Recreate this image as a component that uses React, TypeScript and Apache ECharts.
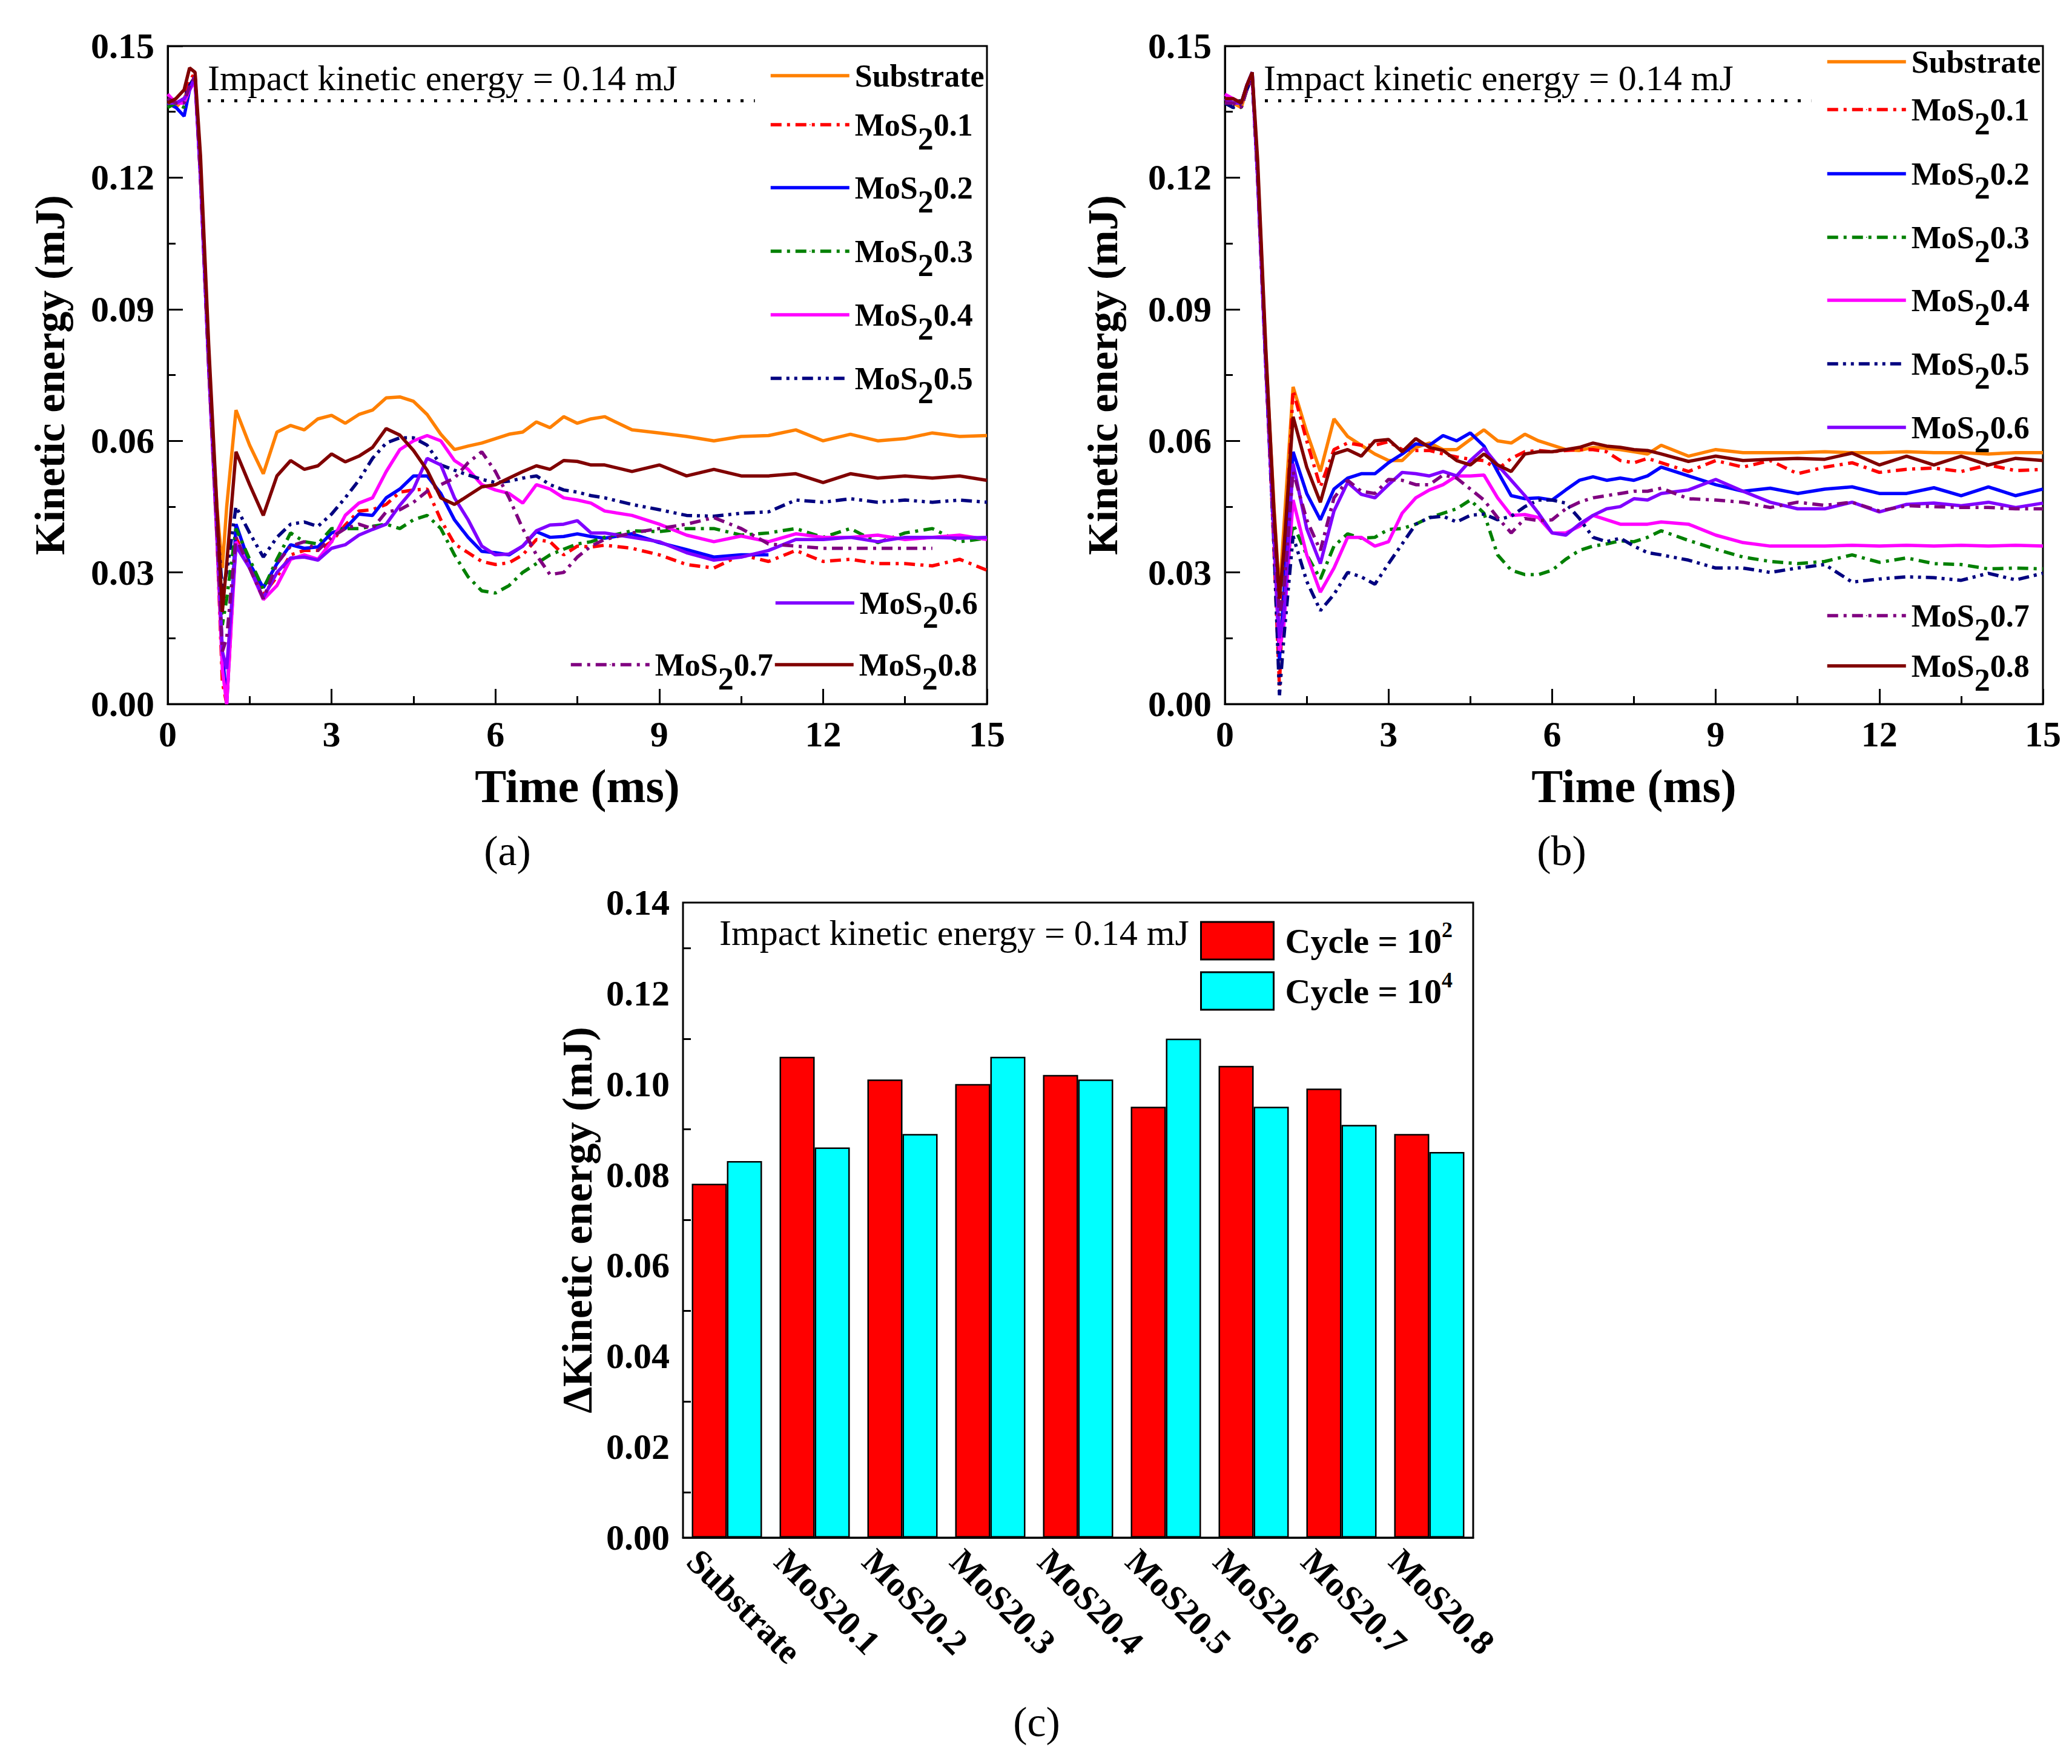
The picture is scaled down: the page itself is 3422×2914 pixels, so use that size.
import { useEffect, useRef } from "react";
import * as echarts from "echarts";

const FONT = "'Liberation Serif', 'Times New Roman', serif";

// shared time base (ms) for panels (a) and (b)
const TIME = [
  0, 0.15, 0.3, 0.4, 0.5, 0.6, 0.75, 0.9, 1.0, 1.08,
  1.25, 1.5, 1.75, 2.0, 2.25, 2.5, 2.75, 3.0, 3.25, 3.5, 3.75, 4.0, 4.25, 4.5,
  4.75, 5.0, 5.25, 5.5, 5.75, 6.0, 6.25, 6.5, 6.75, 7.0, 7.25, 7.5, 7.75, 8.0,
  8.5, 9.0, 9.5, 10.0, 10.5, 11.0, 11.5, 12.0, 12.5, 13.0, 13.5, 14.0, 14.5, 15.0,
];

// panel (a)
const A_SUBSTRATE = [
  0.137, 0.136, 0.138, 0.141, 0.143, 0.122, 0.078, 0.045, 0.031, 0.045,
  0.067, 0.059, 0.0525, 0.062, 0.0635, 0.0625, 0.065, 0.0658, 0.064, 0.066, 0.067, 0.0698, 0.070, 0.069,
  0.066, 0.0615, 0.058, 0.0588, 0.0595, 0.0605, 0.0615, 0.062, 0.0643, 0.063, 0.0655, 0.064, 0.065, 0.0655,
  0.0625, 0.0618, 0.061, 0.060, 0.061, 0.0612, 0.0625, 0.060, 0.0615, 0.060, 0.0605, 0.0618, 0.061, 0.0612,
];
const A_MOS2_01 = [
  0.138, 0.137, 0.138, 0.142, 0.144, 0.12, 0.077, 0.038, 0.005, 0.0,
  0.038, 0.031, 0.025, 0.029, 0.034, 0.035, 0.035, 0.037, 0.0408, 0.044, 0.0443, 0.0455, 0.0483, 0.0488,
  0.049, 0.042, 0.0365, 0.0345, 0.0325, 0.0318, 0.0322, 0.034, 0.0375, 0.037, 0.034, 0.036, 0.0358, 0.0362,
  0.0355, 0.034, 0.0318, 0.031, 0.034, 0.0325, 0.035, 0.0325, 0.033, 0.032, 0.032, 0.0315, 0.033, 0.0305,
];
const A_MOS2_02 = [
  0.137, 0.136, 0.134, 0.140, 0.143, 0.121, 0.078, 0.040, 0.012, 0.0,
  0.041, 0.032, 0.0265, 0.032, 0.0363, 0.0355, 0.0358, 0.039, 0.040, 0.0433, 0.043, 0.047, 0.049, 0.052,
  0.052, 0.048, 0.042, 0.038, 0.0348, 0.0345, 0.034, 0.036, 0.0393, 0.038, 0.0382, 0.0388, 0.0382, 0.0378,
  0.0388, 0.0368, 0.0352, 0.0335, 0.034, 0.034,
];
const A_MOS2_03 = [
  0.136, 0.137, 0.136, 0.141, 0.143, 0.121, 0.077, 0.040, 0.018, 0.024,
  0.040, 0.033, 0.0262, 0.033, 0.039, 0.037, 0.0365, 0.040, 0.040, 0.040, 0.0405, 0.041, 0.040, 0.042,
  0.043, 0.040, 0.034, 0.029, 0.0258, 0.0253, 0.027, 0.030, 0.032, 0.034, 0.0353, 0.0365, 0.037, 0.038,
  0.0395, 0.0393, 0.040, 0.040, 0.0385, 0.039, 0.040, 0.038, 0.040, 0.0368, 0.039, 0.040, 0.037, 0.0378,
];
const A_MOS2_04 = [
  0.139, 0.137, 0.137, 0.140, 0.142, 0.120, 0.077, 0.038, 0.008, 0.0,
  0.037, 0.031, 0.0238, 0.027, 0.033, 0.034, 0.033, 0.037, 0.043, 0.0458, 0.047, 0.053, 0.058, 0.060,
  0.0612, 0.060, 0.0555, 0.0535, 0.050, 0.0488, 0.048, 0.0458, 0.050, 0.049, 0.047, 0.0465, 0.0458, 0.044,
  0.043, 0.041, 0.0385, 0.037, 0.0383, 0.037, 0.0388, 0.038, 0.038, 0.0385, 0.0375, 0.038, 0.0385, 0.0375,
];
const A_MOS2_05 = [
  0.138, 0.137, 0.138, 0.141, 0.143, 0.121, 0.078, 0.042, 0.026, 0.030,
  0.045, 0.039, 0.0335, 0.038, 0.041, 0.0415, 0.0405, 0.0433, 0.047, 0.051, 0.056, 0.0595, 0.0607, 0.0607,
  0.059, 0.0545, 0.0533, 0.0522, 0.0512, 0.0505, 0.0508, 0.0515, 0.052, 0.050, 0.0488, 0.0483, 0.0475, 0.047,
  0.0455, 0.0443, 0.043, 0.0428, 0.0435, 0.0438, 0.0465, 0.046, 0.0468, 0.046, 0.0465, 0.046, 0.0465, 0.046,
];
const A_MOS2_06 = [
  0.137, 0.137, 0.138, 0.140, 0.143, 0.120, 0.077, 0.040, 0.012, 0.008,
  0.036, 0.031, 0.0242, 0.030, 0.0333, 0.0335, 0.0328, 0.0355, 0.0363, 0.0385, 0.0398, 0.041, 0.0453, 0.049,
  0.056, 0.0545, 0.047, 0.042, 0.036, 0.034, 0.0342, 0.036, 0.0395, 0.0408, 0.041, 0.0418, 0.039, 0.039,
  0.038, 0.037, 0.0345, 0.0328, 0.0335, 0.035, 0.0375, 0.0375, 0.038, 0.037, 0.038, 0.038, 0.0378, 0.038,
];
const A_MOS2_07 = [
  0.138, 0.137, 0.137, 0.141, 0.143, 0.120, 0.077, 0.039, 0.012, 0.015,
  0.038, 0.031, 0.024, 0.032, 0.036, 0.037, 0.035, 0.038, 0.040, 0.041, 0.040, 0.0438, 0.0443, 0.046,
  0.0485, 0.050, 0.0515, 0.055, 0.0575, 0.053, 0.047, 0.040, 0.034, 0.0295, 0.030, 0.0335, 0.036, 0.0375,
  0.039, 0.040, 0.041, 0.0425, 0.040, 0.0365, 0.036, 0.0355, 0.0355, 0.0355, 0.0355, 0.0355,
];
const A_MOS2_08 = [
  0.137, 0.138, 0.140, 0.145, 0.144, 0.125, 0.082, 0.045, 0.021, 0.032,
  0.0575, 0.050, 0.043, 0.052, 0.0555, 0.0535, 0.0543, 0.057, 0.0552, 0.0565, 0.0585, 0.0628, 0.0613, 0.0578,
  0.0533, 0.047, 0.0455, 0.0475, 0.0495, 0.050, 0.0515, 0.053, 0.0543, 0.0535, 0.0555, 0.0553, 0.0545, 0.0545,
  0.053, 0.0545, 0.052, 0.0535, 0.052, 0.052, 0.0525, 0.0505, 0.0525, 0.0515, 0.052, 0.0515, 0.052, 0.051,
];

// panel (b)
const B_SUBSTRATE = [
  0.138, 0.137, 0.136, 0.140, 0.143, 0.122, 0.080, 0.045, 0.025, 0.040,
  0.0723, 0.062, 0.053, 0.065, 0.061, 0.059, 0.057, 0.0555, 0.0555, 0.0585, 0.0595, 0.058, 0.058, 0.0603,
  0.0625, 0.060, 0.0595, 0.0615, 0.060, 0.059, 0.058, 0.0578, 0.0585, 0.0583, 0.058, 0.0575, 0.057, 0.059,
  0.0565, 0.058, 0.0573, 0.0573, 0.0573, 0.0575, 0.0573, 0.0573, 0.0575, 0.0573, 0.0573, 0.057, 0.0573, 0.0573,
];
const B_MOS2_01 = [
  0.137, 0.137, 0.136, 0.141, 0.143, 0.121, 0.078, 0.035, 0.004, 0.030,
  0.0715, 0.060, 0.0495, 0.058, 0.0595, 0.059, 0.059, 0.0598, 0.058, 0.0578, 0.0578, 0.057, 0.0563, 0.0558,
  0.0555, 0.0535, 0.056, 0.0575, 0.0578, 0.0575, 0.0578, 0.058, 0.058, 0.0575, 0.0555, 0.055, 0.056, 0.055,
  0.053, 0.0555, 0.054, 0.0555, 0.0525, 0.054, 0.055, 0.0528, 0.0535, 0.0538, 0.053, 0.0545, 0.0532, 0.0535,
];
const B_MOS2_02 = [
  0.138, 0.137, 0.137, 0.141, 0.144, 0.121, 0.078, 0.038, 0.010, 0.025,
  0.0575, 0.048, 0.042, 0.049, 0.0515, 0.0525, 0.0525, 0.055, 0.057, 0.0593, 0.059, 0.0612, 0.060, 0.0618,
  0.0588, 0.053, 0.0475, 0.0468, 0.047, 0.0465, 0.0488, 0.051, 0.0518, 0.051, 0.0515, 0.051, 0.052, 0.054,
  0.052, 0.050, 0.0485, 0.0492, 0.048, 0.049, 0.0495, 0.048, 0.048, 0.0493, 0.0475, 0.0495, 0.0475, 0.049,
];
const B_MOS2_03 = [
  0.137, 0.136, 0.136, 0.140, 0.143, 0.120, 0.077, 0.040, 0.020, 0.028,
  0.041, 0.034, 0.0285, 0.036, 0.0388, 0.0378, 0.038, 0.0398, 0.040, 0.041, 0.0425, 0.0435, 0.0445, 0.0465,
  0.0435, 0.034, 0.0305, 0.0295, 0.0295, 0.0305, 0.033, 0.035, 0.036, 0.0365, 0.0372, 0.037, 0.038, 0.0395,
  0.0373, 0.0353, 0.0335, 0.0325, 0.032, 0.0325, 0.034, 0.0323, 0.0333, 0.032, 0.0318, 0.0308, 0.031, 0.0308,
];
const B_MOS2_04 = [
  0.139, 0.138, 0.137, 0.140, 0.143, 0.120, 0.077, 0.038, 0.012, 0.018,
  0.0465, 0.034, 0.0255, 0.031, 0.038, 0.038, 0.036, 0.037, 0.0435, 0.047, 0.0488, 0.050, 0.052, 0.052,
  0.0522, 0.047, 0.043, 0.0432, 0.0425, 0.039, 0.039, 0.0405, 0.043, 0.042, 0.041, 0.041, 0.041, 0.0415,
  0.041, 0.0385, 0.0368, 0.036, 0.036, 0.036, 0.0362, 0.036, 0.0362, 0.036, 0.0362, 0.036, 0.0362, 0.036,
];
const B_MOS2_05 = [
  0.137, 0.136, 0.137, 0.140, 0.143, 0.120, 0.077, 0.036, 0.002, 0.015,
  0.0383, 0.028, 0.0213, 0.025, 0.030, 0.029, 0.0273, 0.032, 0.0365, 0.041, 0.0425, 0.0428, 0.0415, 0.043,
  0.0433, 0.042, 0.0428, 0.045, 0.0465, 0.0465, 0.0458, 0.0423, 0.038, 0.037, 0.0378, 0.036, 0.0345, 0.034,
  0.0328, 0.031, 0.031, 0.030, 0.031, 0.0318, 0.0278, 0.0285, 0.029, 0.0288, 0.0282, 0.0298, 0.0283, 0.0298,
];
const B_MOS2_06 = [
  0.138, 0.137, 0.137, 0.141, 0.144, 0.120, 0.077, 0.038, 0.015, 0.020,
  0.0548, 0.040, 0.032, 0.044, 0.0505, 0.0478, 0.047, 0.050, 0.0528, 0.0525, 0.052, 0.053, 0.052, 0.0555,
  0.0583, 0.0545, 0.051, 0.0475, 0.0435, 0.039, 0.0385, 0.041, 0.043, 0.0445, 0.045, 0.0468, 0.0465, 0.048,
  0.0488, 0.0512, 0.0485, 0.046, 0.0445, 0.0445, 0.046, 0.0438, 0.0455, 0.0458, 0.0452, 0.046, 0.0448, 0.0458,
];
const B_MOS2_07 = [
  0.137, 0.137, 0.136, 0.140, 0.143, 0.120, 0.077, 0.040, 0.020, 0.026,
  0.053, 0.042, 0.035, 0.047, 0.051, 0.0485, 0.048, 0.0512, 0.051, 0.050, 0.050, 0.0522, 0.0515, 0.049,
  0.0465, 0.0425, 0.039, 0.0423, 0.0418, 0.042, 0.0445, 0.046, 0.047, 0.0475, 0.048, 0.0485, 0.0485, 0.0492,
  0.0468, 0.0465, 0.046, 0.0448, 0.046, 0.0453, 0.046, 0.044, 0.0452, 0.045, 0.0448, 0.0448, 0.0445, 0.0445,
];
const B_MOS2_08 = [
  0.138, 0.138, 0.137, 0.141, 0.144, 0.124, 0.081, 0.044, 0.024, 0.035,
  0.0655, 0.054, 0.046, 0.057, 0.058, 0.0565, 0.060, 0.0603, 0.0575, 0.0605, 0.0585, 0.0578, 0.0555, 0.0545,
  0.057, 0.0545, 0.053, 0.057, 0.0575, 0.0575, 0.058, 0.0585, 0.0595, 0.0588, 0.0585, 0.058, 0.0578, 0.057,
  0.0553, 0.0565, 0.0555, 0.0558, 0.056, 0.0558, 0.0572, 0.0545, 0.0565, 0.0545, 0.0565, 0.0545, 0.056, 0.0555,
];

// panel (c)
const CATEGORIES = ["Substrate", "MoS20.1", "MoS20.2", "MoS20.3", "MoS20.4", "MoS20.5", "MoS20.6", "MoS20.7", "MoS20.8"];
const CYCLE_1E2 = [0.078, 0.106, 0.101, 0.100, 0.102, 0.095, 0.104, 0.099, 0.089];
const CYCLE_1E4 = [0.083, 0.086, 0.089, 0.106, 0.101, 0.110, 0.095, 0.091, 0.085];

const IMPACT_LEVEL = 0.1375;
const IMPACT_LINE_END = 10.75;
const IMPACT_TEXT = "Impact kinetic energy = 0.14 mJ";

const DASH_DOT = [18, 9, 5, 9];
const DASH_DOT_DOT = [18, 8, 5, 8, 5, 8];

const SERIES_STYLE = [
  { name: "Substrate", color: "#FF8000", dash: "solid" as any },
  { name: "MoS2 0.1", color: "#FF0000", dash: DASH_DOT },
  { name: "MoS2 0.2", color: "#0000FF", dash: "solid" },
  { name: "MoS2 0.3", color: "#008000", dash: DASH_DOT },
  { name: "MoS2 0.4", color: "#FF00FF", dash: "solid" },
  { name: "MoS2 0.5", color: "#000080", dash: DASH_DOT_DOT },
  { name: "MoS2 0.6", color: "#8000FF", dash: "solid" },
  { name: "MoS2 0.7", color: "#800080", dash: DASH_DOT },
  { name: "MoS2 0.8", color: "#800000", dash: "solid" },
];

const PANEL_A = [A_SUBSTRATE, A_MOS2_01, A_MOS2_02, A_MOS2_03, A_MOS2_04, A_MOS2_05, A_MOS2_06, A_MOS2_07, A_MOS2_08];
const PANEL_B = [B_SUBSTRATE, B_MOS2_01, B_MOS2_02, B_MOS2_03, B_MOS2_04, B_MOS2_05, B_MOS2_06, B_MOS2_07, B_MOS2_08];

const TEXT = { fontFamily: FONT, color: "#000" };

const LEGEND_RICH = {
  n: { ...TEXT, fontSize: 52, fontWeight: "bold", lineHeight: 60 },
  s: { ...TEXT, fontSize: 52, fontWeight: "bold", lineHeight: 60, padding: [46, 0, 0, 0] },
};

function legendLabel(name: string) {
  if (name === "Substrate") return "{n|Substrate}";
  return `{n|MoS}{s|2}{n|${name.split(" ")[1]}}`;
}

// one legend per entry so each can sit where the original puts it
function lineLegend(name: string, left: number, cy: number) {
  const half = name === "Substrate" ? 30 : 53;
  return {
    data: [name],
    left,
    top: cy - half,
    padding: 0,
    itemWidth: 130,
    itemHeight: 2,
    selectedMode: false,
    lineStyle: { width: 5.5 },
    formatter: legendLabel,
    textStyle: { ...TEXT, fontSize: 52, fontWeight: "bold", padding: [0, 0, 0, 4], rich: LEGEND_RICH },
  };
}

function barLegend(name: string, cy: number) {
  return {
    data: [name],
    left: 1982,
    top: cy - 38,
    padding: 0,
    icon: "rect",
    itemWidth: 120,
    itemHeight: 62,
    selectedMode: false,
    itemStyle: { borderColor: "#000", borderWidth: 3 },
    formatter: (n: string) => `{n|Cycle = 10}{p|${n.slice(-1)}}`,
    textStyle: {
      ...TEXT,
      fontSize: 58,
      fontWeight: "bold",
      rich: {
        n: { ...TEXT, fontSize: 58, fontWeight: "bold", lineHeight: 62, padding: [0, 0, 0, 14] },
        p: { ...TEXT, fontSize: 36, fontWeight: "bold", lineHeight: 40, padding: [0, 0, 36, 0] },
      },
    },
  };
}

const AXIS_LINE = { lineStyle: { color: "#000", width: 3 } };
const TICK = { inside: true, length: 25, lineStyle: { color: "#000", width: 3 } };
const MINOR = { show: true, splitNumber: 2, length: 13, lineStyle: { color: "#000", width: 3 } };
const TICK_LABEL = { ...TEXT, fontSize: 60, fontWeight: "bold" };

function timeXAxis(gridIndex: number) {
  return {
    type: "value",
    gridIndex,
    min: 0,
    max: 15,
    interval: 3,
    name: "Time (ms)",
    nameLocation: "middle",
    nameGap: 96,
    nameTextStyle: { ...TEXT, fontSize: 78, fontWeight: "bold" },
    axisLine: AXIS_LINE,
    axisTick: TICK,
    minorTick: MINOR,
    splitLine: { show: false },
    axisLabel: { ...TICK_LABEL, margin: 20 },
  };
}

function energyYAxis(gridIndex: number, nameGap: number) {
  return {
    type: "value",
    gridIndex,
    min: 0,
    max: 0.15,
    interval: 0.03,
    name: "Kinetic energy (mJ)",
    nameLocation: "middle",
    nameRotate: 90,
    nameGap,
    nameTextStyle: { ...TEXT, fontSize: 70, fontWeight: "bold" },
    axisLine: AXIS_LINE,
    axisTick: TICK,
    minorTick: MINOR,
    splitLine: { show: false },
    axisLabel: { ...TICK_LABEL, margin: 22, formatter: (v: number) => v.toFixed(2) },
  };
}

function panelSeries(panel: number[][], axisIndex: number) {
  const lines = panel.map((values, i) => ({
    type: "line",
    name: SERIES_STYLE[i].name,
    xAxisIndex: axisIndex,
    yAxisIndex: axisIndex,
    data: values.map((v, k) => [TIME[k], v]),
    symbol: "none",
    silent: true,
    lineStyle: { color: SERIES_STYLE[i].color, width: 5.5, type: SERIES_STYLE[i].dash, cap: "butt" },
    itemStyle: { color: SERIES_STYLE[i].color },
  }));
  const impact = {
    type: "line",
    xAxisIndex: axisIndex,
    yAxisIndex: axisIndex,
    data: [[0, IMPACT_LEVEL], [IMPACT_LINE_END, IMPACT_LEVEL]],
    symbol: "none",
    silent: true,
    lineStyle: { color: "#000", width: 5, type: [5, 17] },
  };
  return [impact, ...lines];
}

function label(text: string, x: number, y: number, size: number, align = "left", weight = "normal") {
  return {
    type: "text",
    x,
    y,
    style: { text, fontFamily: FONT, fontSize: size, fontWeight: weight, fill: "#000", align, verticalAlign: "middle" },
  };
}

function buildOption() {
  const LEG_A: [number, number, number][] = [
    [0, 1270, 129], [1, 1270, 210], [2, 1270, 314], [3, 1270, 419], [4, 1270, 524],
    [5, 1270, 629], [6, 1278, 1000], [7, 940, 1102], [8, 1277, 1102],
  ];
  const LEG_B: [number, number, number][] = [
    [0, 3015, 106], [1, 3015, 185], [2, 3015, 291], [3, 3015, 396], [4, 3015, 500],
    [5, 3015, 605], [6, 3015, 710], [7, 3015, 1021], [8, 3015, 1104],
  ];
  const gridBox = { show: true, borderColor: "#000", borderWidth: 3, backgroundColor: "transparent" };

  return {
    animation: false,
    backgroundColor: "#fff",
    grid: [
      { ...gridBox, left: 277, top: 76, width: 1353, height: 1087 },
      { ...gridBox, left: 2023, top: 76, width: 1351, height: 1087 },
      { ...gridBox, left: 1128, top: 1491, width: 1305, height: 1049 },
    ],
    xAxis: [
      timeXAxis(0),
      timeXAxis(1),
      {
        type: "category",
        gridIndex: 2,
        data: CATEGORIES,
        axisLine: AXIS_LINE,
        axisTick: { show: false },
        axisLabel: {
          ...TEXT,
          fontSize: 58,
          fontWeight: "bold",
          rotate: -45,
          interval: 0,
          margin: 10,
          verticalAlign: "top",
          padding: [24, 0, 0, -26],
        },
      },
    ],
    yAxis: [
      energyYAxis(0, 160),
      energyYAxis(1, 167),
      {
        type: "value",
        gridIndex: 2,
        min: 0,
        max: 0.14,
        interval: 0.02,
        name: "\u0394Kinetic energy (mJ)",
        nameLocation: "middle",
        nameRotate: 90,
        nameGap: 140,
        nameTextStyle: { ...TEXT, fontSize: 70, fontWeight: "bold" },
        axisLine: AXIS_LINE,
        axisTick: TICK,
        minorTick: MINOR,
        splitLine: { show: false },
        axisLabel: { ...TICK_LABEL, margin: 22, formatter: (v: number) => v.toFixed(2) },
      },
    ],
    legend: [
      ...LEG_A.map(([i, x, y]) => lineLegend(SERIES_STYLE[i].name, x, y)),
      ...LEG_B.map(([i, x, y]) => lineLegend(SERIES_STYLE[i].name, x, y)),
      barLegend("Cycle = 10^2", 1556),
      barLegend("Cycle = 10^4", 1639),
    ],
    series: [
      ...panelSeries(PANEL_A, 0),
      ...panelSeries(PANEL_B, 1),
      {
        type: "bar",
        name: "Cycle = 10^2",
        xAxisIndex: 2,
        yAxisIndex: 2,
        data: CYCLE_1E2,
        barGap: "0%",
        barCategoryGap: "20%",
        silent: true,
        itemStyle: { color: "#FF0000", borderColor: "#000", borderWidth: 2.5 },
      },
      {
        type: "bar",
        name: "Cycle = 10^4",
        xAxisIndex: 2,
        yAxisIndex: 2,
        data: CYCLE_1E4,
        barGap: "0%",
        barCategoryGap: "20%",
        silent: true,
        itemStyle: { color: "#00FFFF", borderColor: "#000", borderWidth: 2.5 },
      },
    ],
    graphic: [
      label(IMPACT_TEXT, 343, 129, 60),
      label(IMPACT_TEXT, 2087, 129, 60),
      label(IMPACT_TEXT, 1188, 1541, 60),
      label("(a)", 838, 1405, 70, "center"),
      label("(b)", 2579, 1405, 70, "center"),
      label("(c)", 1712, 2844, 70, "center"),
    ],
  };
}

export default function App() {
  const ref = useRef<HTMLDivElement>(null);

  useEffect(() => {
    if (!ref.current) return;
    const chart = echarts.init(ref.current, null, { renderer: "svg" });
    chart.setOption(buildOption() as any);
    return () => chart.dispose();
  }, []);

  return (
    <div
      ref={ref}
      style={{ position: "fixed", left: 0, top: 0, width: 3422, height: 2914, background: "#fff" }}
    />
  );
}
